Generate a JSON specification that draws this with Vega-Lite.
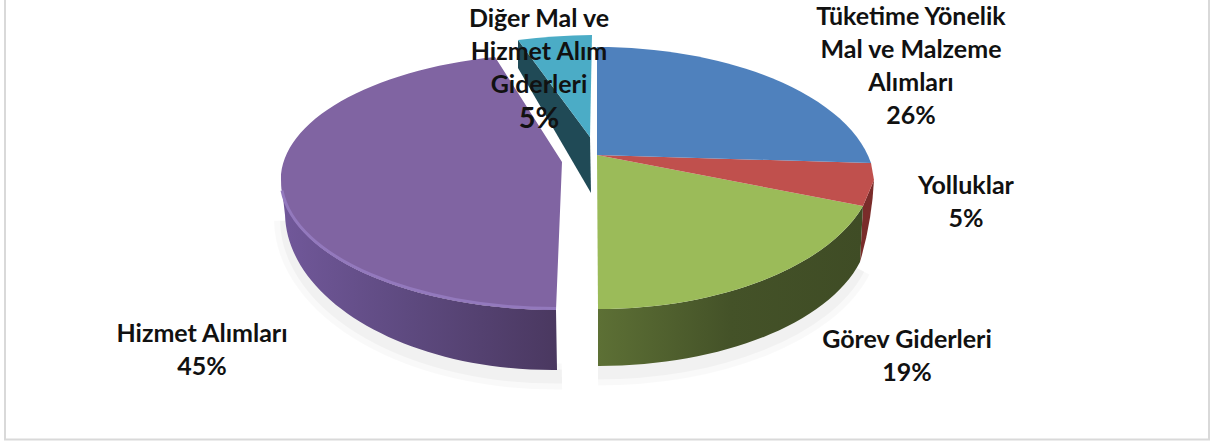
{"$schema":"https://vega.github.io/schema/vega-lite/v6.json","width":1212,"height":441,"padding":0,"autosize":{"type":"none"},"background":"white","config":{"view":{"stroke":null}},
"datasets":{
"parts":[{"slice":"Çerçeve","share":null,"part":"frame"},{"slice":"Gölge","share":null,"part":"shadowPurple"},{"slice":"Gölge","share":null,"part":"shadowGreen"},{"slice":"Hizmet Alımları","share":45,"part":"purpleSide"},{"slice":"Hizmet Alımları","share":45,"part":"purpleTop"},{"slice":"Hizmet Alımları","share":45,"part":"purpleRim"},{"slice":"Yolluklar","share":5,"part":"redSide"},{"slice":"Görev Giderleri","share":19,"part":"greenSide"},{"slice":"Görev Giderleri","share":19,"part":"greenTop"},{"slice":"Yolluklar","share":5,"part":"redTop"},{"slice":"Tüketime Yönelik Mal ve Malzeme Alımları","share":26,"part":"blueTop"},{"slice":"Diğer Mal ve Hizmet Alım Giderleri","share":5,"part":"cyanSide"},{"slice":"Diğer Mal ve Hizmet Alım Giderleri","share":5,"part":"cyanTop"}],
"labels":[{"idx":1,"label":"Tüketime Yönelik\nMal ve Malzeme\nAlımları\n26%"},{"idx":2,"label":"Yolluklar\n5%"},{"idx":3,"label":"Görev Giderleri\n19%"},{"idx":4,"label":"Hizmet Alımları\n45%"},{"idx":5,"label":"Diğer Mal ve\nHizmet Alım\nGiderleri"},{"idx":6,"label":"5%"}]},
"layer":[
{"data":{"name":"parts"},
"encoding":{"size":{"value":4},"shape":{"field":"part","type":"nominal","legend":null,"scale":{
"domain":["frame","shadowPurple","shadowGreen","purpleSide","purpleTop","purpleRim","redSide","greenSide","greenTop","redTop","blueTop","cyanSide","cyanTop"],
"range":[
"M-601,-235L-601,219L603,219L603,-235",
"M-319,0A268 158 0 0 0 -44,156",
"M-8,152A270 140 0 0 0 252,48",
"M-325,-40.5A276 130 0 0 0 -50,89.5L-49,149.5A268 158 0 0 1 -321,-5.5Z",
"M-44,-58.5L-111,-163.5A276 126 0 0 0 -325,-40.5A276 130 0 0 0 -50,89.5Z",
"M-324,-30A276 130 0 0 0 -50,88",
"M268,-40.5L257,-14.5L254,41.5Q266,0 268,-40.5Z",
"M257,-14.5A278 145 0 0 1 -8,88.5L-8,145.5A270 140 0 0 0 254,41.5Z",
"M-9,-65.5L257,-14.5A278 145 0 0 1 -8,88.5Z",
"M-9,-65.5L265,-57.5L268,-40.5L257,-14.5Z",
"M-9,-65.5L-9,-173.5A278 140 0 0 1 265,-57.5Z",
"M-88,-180.5L-16,-83.5L-15,-27.5L-88,-152.5Z",
"M-88,-180.5A300 130 0 0 1 -14,-185.5L-16,-83.5Z"
]}}},
"layer":[
{"transform":[{"filter":"datum.part=='frame'"}],"mark":{"type":"point","filled":false,"opacity":1,"stroke":"#d9d9d9","strokeWidth":2}},
{"transform":[{"filter":"datum.part=='shadowPurple'||datum.part=='shadowGreen'"}],"mark":{"type":"point","filled":false,"opacity":1,"stroke":"#000000","strokeOpacity":0.025,"strokeWidth":26}},
{"transform":[{"filter":"datum.part=='shadowPurple'||datum.part=='shadowGreen'"}],"mark":{"type":"point","filled":false,"opacity":1,"stroke":"#000000","strokeOpacity":0.03,"strokeWidth":14}},
{"transform":[{"filter":"datum.part=='purpleSide'"}],"mark":{"type":"point","filled":true,"opacity":1,"fill":{"gradient":"linear","x1":0,"y1":0,"x2":1,"y2":0,"stops":[{"offset":0,"color":"#71589a"},{"offset":0.45,"color":"#5e4a80"},{"offset":1,"color":"#4a3860"}]}}},
{"transform":[{"filter":"datum.part=='purpleTop'"}],"mark":{"type":"point","filled":true,"opacity":1,"fill":"#8064a2"}},
{"transform":[{"filter":"datum.part=='purpleRim'"}],"mark":{"type":"point","filled":false,"opacity":1,"stroke":"#9379bd","strokeWidth":3}},
{"transform":[{"filter":"datum.part=='redSide'"}],"mark":{"type":"point","filled":true,"opacity":1,"fill":"#7a2c2a"}},
{"transform":[{"filter":"datum.part=='greenSide'"}],"mark":{"type":"point","filled":true,"opacity":1,"fill":{"gradient":"linear","x1":0,"y1":0,"x2":1,"y2":0,"stops":[{"offset":0,"color":"#5d7035"},{"offset":0.5,"color":"#445228"},{"offset":1,"color":"#3f4c25"}]}}},
{"transform":[{"filter":"datum.part=='greenTop'"}],"mark":{"type":"point","filled":true,"opacity":1,"fill":"#9bbb59"}},
{"transform":[{"filter":"datum.part=='redTop'"}],"mark":{"type":"point","filled":true,"opacity":1,"fill":"#c0504d"}},
{"transform":[{"filter":"datum.part=='blueTop'"}],"mark":{"type":"point","filled":true,"opacity":1,"fill":"#4f81bd"}},
{"transform":[{"filter":"datum.part=='cyanSide'"}],"mark":{"type":"point","filled":true,"opacity":1,"fill":"#204a56"}},
{"transform":[{"filter":"datum.part=='cyanTop'"}],"mark":{"type":"point","filled":true,"opacity":1,"fill":"#4bacc6"}}
]},
{"data":{"name":"labels"},
"encoding":{
"x":{"field":"idx","type":"quantitative","axis":null,"scale":{"domain":[1,2,3,4,5,6],"range":[911,966,907,202,539,539],"zero":false,"nice":false}},
"y":{"field":"idx","type":"quantitative","axis":null,"scale":{"domain":[1,2,3,4,5,6],"range":[25,194,348,342,27,128],"zero":false,"nice":false}},
"text":{"field":"label","type":"nominal"}},
"layer":[
{"transform":[{"filter":"datum.idx<6"}],"mark":{"type":"text","font":"Lato","fontWeight":"bold","fontSize":25,"color":"#111111","align":"center","baseline":"alphabetic","lineBreak":"\n","lineHeight":33}},
{"transform":[{"filter":"datum.idx==6"}],"mark":{"type":"text","font":"Lato","fontWeight":"bold","fontSize":29,"color":"#111111","align":"center","baseline":"alphabetic"}}
]}
]}
